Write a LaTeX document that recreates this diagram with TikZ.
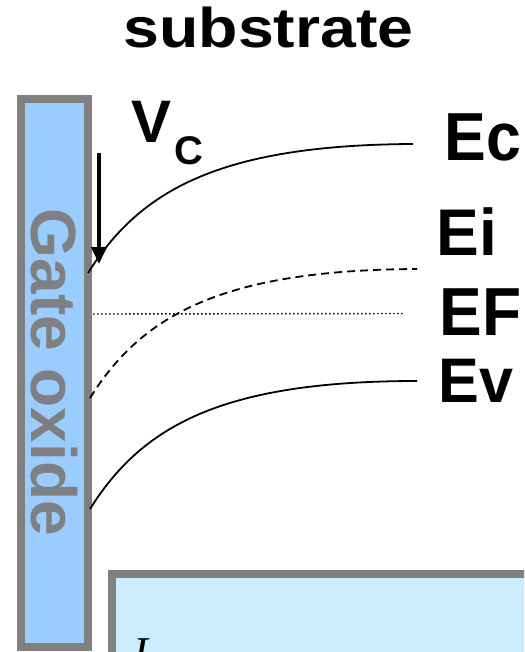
\documentclass[tikz,border=0pt]{standalone}
\usepackage{fontspec}
\usepackage{graphicx}
\setmainfont{Liberation Sans}
\newfontfamily\serifface{Liberation Serif}
\usetikzlibrary{arrows.meta}
\definecolor{oxgray}{HTML}{808080}
\definecolor{oxfill}{HTML}{99CCFF}
\definecolor{boxfill}{HTML}{CCECFF}
\tikzset{
  lbl/.style={inner sep=0pt, outer sep=0pt, font=\bfseries},
  band/.style={line width=1.8pt, black},
  midband/.style={band, dash pattern=on 8pt off 5pt},
  fermi/.style={line width=1.4pt, dash pattern=on 1.5pt off 2.5pt},
  grayframe/.style={draw=oxgray, line width=8pt}
}
\begin{document}
\begin{tikzpicture}[x=1pt,y=-1pt]
\useasboundingbox (0,0) rectangle (524,652);
\clip (0,0) rectangle (524,652);
% title
\node[lbl] (title) at (268.5,27.5) {\fontsize{56}{60}\selectfont\scalebox{1.15}[1]{substrate}};
% gate oxide
\draw[grayframe, fill=oxfill] (21,99) rectangle (88,647);
\node[lbl, text=oxgray, rotate=-90] (gate) at (54,372.5) {\fontsize{64}{70}\selectfont Gate oxide};
% bottom box
\draw[grayframe, fill=boxfill] (112,574) rectangle (560,720);
\node[inner sep=0pt, anchor=north west] (formula) at (133,638) {\serifface\itshape\fontsize{44}{48}\selectfont I};
% V_C label and arrow
\node[lbl] (vlabel) at (152,121.5) {\fontsize{60}{64}\selectfont V};
\node[lbl] (vsub) at (189,151) {\fontsize{40}{44}\selectfont C};
\coordinate (arrtop) at (99,153);
\coordinate (arrtip) at (99,264);
\draw[line width=4pt, -{Triangle[length=17pt,width=15pt]}] (arrtop) -- (arrtip);
% band coordinates
\coordinate (ec0) at (88,273);   \coordinate (ec1) at (413,144);
\coordinate (ei0) at (90,398);   \coordinate (ei1) at (417,269);
\coordinate (ef0) at (93,314);   \coordinate (ef1) at (404,313.5);
\coordinate (ev0) at (90,509);   \coordinate (ev1) at (417,381);
% bands
\draw[band] (ec0) .. controls (140,190) and (220,145) .. (ec1);
\draw[midband] (ei0) .. controls (142,315) and (222,270) .. (ei1);
\draw[fermi] (ef0) -- (ef1);
\draw[band] (ev0) .. controls (142,426) and (222,381) .. (ev1);
% band labels
\node[lbl] (ec) at (483,137) {\fontsize{68}{72}\selectfont\scalebox{0.92}[1]{Ec}};
\node[lbl] (ei) at (467,231.5) {\fontsize{66}{70}\selectfont\scalebox{0.97}[1]{Ei}};
\node[lbl] (ef) at (480.5,312.5) {\fontsize{68}{72}\selectfont\scalebox{0.94}[1]{EF}};
\node[lbl] (ev) at (476,380.5) {\fontsize{63}{68}\selectfont\scalebox{0.97}[1]{Ev}};
\end{tikzpicture}
\end{document}
